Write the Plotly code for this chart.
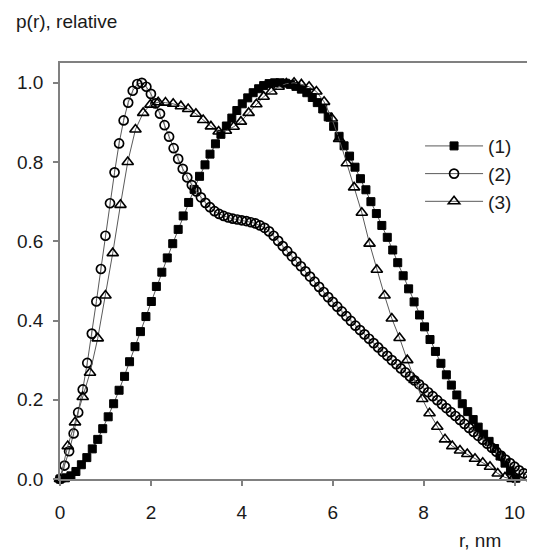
import plotly.graph_objects as go

# series (1): filled squares
r1 = [0.0, 0.12, 0.24, 0.35, 0.47, 0.59, 0.71, 0.83, 0.94, 1.06, 1.18, 1.30, 1.42, 1.53,
      1.65, 1.77, 1.89, 2.01, 2.12, 2.24, 2.36, 2.48, 2.60, 2.71, 2.83, 2.95, 3.07, 3.19,
      3.30, 3.42, 3.54, 3.66, 3.78, 3.89, 4.01, 4.13, 4.25, 4.37, 4.48, 4.60, 4.72, 4.84,
      4.96, 5.07, 5.19, 5.31, 5.43, 5.55, 5.66, 5.78, 5.90, 6.02, 6.14, 6.25, 6.37, 6.49,
      6.61, 6.73, 6.84, 6.96, 7.08, 7.20, 7.32, 7.43, 7.55, 7.67, 7.79, 7.91, 8.02, 8.14,
      8.26, 8.38, 8.50, 8.61, 8.73, 8.85, 8.97, 9.09, 9.20, 9.32, 9.44, 9.56, 9.68, 9.79,
      9.91, 10.03]
p1 = [0.000, 0.003, 0.008, 0.019, 0.036, 0.054, 0.076, 0.100, 0.127, 0.157, 0.190, 0.224,
      0.259, 0.296, 0.334, 0.372, 0.410, 0.448, 0.486, 0.522, 0.558, 0.594, 0.630, 0.664,
      0.698, 0.731, 0.764, 0.793, 0.820, 0.846, 0.870, 0.891, 0.911, 0.930, 0.947, 0.962,
      0.975, 0.985, 0.993, 0.998, 1.000, 1.000, 0.999, 0.996, 0.991, 0.984, 0.975, 0.963,
      0.950, 0.934, 0.914, 0.890, 0.865, 0.841, 0.815, 0.787, 0.758, 0.730, 0.700, 0.670,
      0.640, 0.610, 0.578, 0.546, 0.513, 0.480, 0.447, 0.414, 0.384, 0.352, 0.322, 0.292,
      0.263, 0.237, 0.212, 0.190, 0.170, 0.150, 0.131, 0.113, 0.095, 0.077, 0.058, 0.040,
      0.020, 0.002]

# series (2): open circles
r2 = [0.0, 0.1, 0.2, 0.3, 0.4, 0.5, 0.6, 0.7, 0.8, 0.9, 1.0, 1.1, 1.2, 1.3, 1.4, 1.5, 1.6,
      1.7, 1.8, 1.9, 2.0, 2.1, 2.2, 2.3, 2.4, 2.5, 2.6, 2.7, 2.8, 2.9, 3.0, 3.1, 3.2, 3.3,
      3.4, 3.5, 3.6, 3.7, 3.8, 3.9, 4.0, 4.1, 4.2, 4.3, 4.4, 4.5, 4.6, 4.7, 4.8, 4.9, 5.0,
      5.1, 5.2, 5.3, 5.4, 5.5, 5.6, 5.7, 5.8, 5.9, 6.0, 6.1, 6.2, 6.3, 6.4, 6.5, 6.6, 6.7,
      6.8, 6.9, 7.0, 7.1, 7.2, 7.3, 7.4, 7.5, 7.6, 7.7, 7.8, 7.9, 8.0, 8.1, 8.2, 8.3, 8.4,
      8.5, 8.6, 8.7, 8.8, 8.9, 9.0, 9.1, 9.2, 9.3, 9.4, 9.5, 9.6, 9.7, 9.8, 9.9, 10.0,
      10.1, 10.2, 10.3, 10.4]
p2 = [0.000, 0.034, 0.070, 0.115, 0.168, 0.226, 0.293, 0.367, 0.448, 0.530, 0.614, 0.696,
      0.774, 0.847, 0.905, 0.950, 0.980, 0.997, 1.000, 0.990, 0.972, 0.948, 0.922, 0.893,
      0.864, 0.835, 0.808, 0.783, 0.761, 0.742, 0.726, 0.711, 0.697, 0.686, 0.676, 0.669,
      0.664, 0.660, 0.657, 0.655, 0.653, 0.651, 0.648, 0.645, 0.640, 0.634, 0.625, 0.614,
      0.601, 0.588, 0.575, 0.562, 0.549, 0.537, 0.524, 0.511, 0.498, 0.485, 0.472, 0.459,
      0.447, 0.435, 0.423, 0.411, 0.399, 0.387, 0.376, 0.365, 0.354, 0.343, 0.332, 0.321,
      0.311, 0.300, 0.290, 0.279, 0.269, 0.259, 0.249, 0.239, 0.229, 0.219, 0.209, 0.199,
      0.189, 0.179, 0.169, 0.159, 0.149, 0.139, 0.129, 0.119, 0.109, 0.099, 0.089, 0.079,
      0.069, 0.059, 0.049, 0.040, 0.031, 0.022, 0.014, 0.007, 0.002]

# series (3): open triangles
r3 = [0.0, 0.17, 0.33, 0.50, 0.66, 0.83, 1.00, 1.16, 1.33, 1.49, 1.66, 1.83, 1.99, 2.16,
      2.32, 2.49, 2.66, 2.82, 2.99, 3.15, 3.32, 3.49, 3.65, 3.82, 3.98, 4.15, 4.32, 4.48,
      4.65, 4.81, 4.98, 5.15, 5.31, 5.48, 5.64, 5.81, 5.98, 6.14, 6.31, 6.47, 6.64, 6.81,
      6.97, 7.14, 7.30, 7.47, 7.64, 7.80, 7.97, 8.13, 8.30, 8.47, 8.63, 8.80, 8.96, 9.13,
      9.30, 9.46, 9.63, 9.79, 9.96]
p3 = [0.000, 0.083, 0.143, 0.207, 0.268, 0.355, 0.463, 0.570, 0.692, 0.800, 0.882, 0.924,
      0.945, 0.951, 0.950, 0.947, 0.941, 0.934, 0.922, 0.906, 0.890, 0.877, 0.879, 0.889,
      0.902, 0.924, 0.946, 0.965, 0.978, 0.990, 0.998, 1.000, 0.996, 0.990, 0.978, 0.952,
      0.910, 0.858, 0.797, 0.736, 0.672, 0.594, 0.528, 0.463, 0.405, 0.356, 0.300, 0.250,
      0.202, 0.166, 0.132, 0.100, 0.083, 0.072, 0.063, 0.051, 0.041, 0.031, 0.014, 0.004,
      0.000]

names = ["(1)", "(2)", "(3)"]
x_ticks = [0, 2, 4, 6, 8, 10]
y_ticks = [0.0, 0.2, 0.4, 0.6, 0.8, 1.0]

font = "Liberation Sans, Arial, sans-serif"
line_col = "#5a5a5a"
axis_col = "#808080"

fig = go.Figure()
fig.add_trace(go.Scatter(
    x=r1, y=p1, name=names[0], mode="lines+markers", cliponaxis=False,
    line=dict(color=line_col, width=1),
    marker=dict(symbol="square", size=8, color="black", line=dict(color="black", width=1)),
))
fig.add_trace(go.Scatter(
    x=r2, y=p2, name=names[1], mode="lines+markers", cliponaxis=False,
    line=dict(color=line_col, width=1),
    error_y=dict(type="constant", value=0.012, color="#b0b0b0", thickness=1, width=0),
    marker=dict(symbol="circle-open", size=9, color="black", line=dict(width=1.7)),
))
fig.add_trace(go.Scatter(
    x=r3, y=p3, name=names[2], mode="lines+markers", cliponaxis=False,
    line=dict(color=line_col, width=1),
    marker=dict(symbol="triangle-up-open", size=10, color="black", line=dict(width=1.6)),
))

# page body has an 8px margin, so the figure is sized 8px smaller than the window
fig.update_layout(
    width=527, height=549,
    margin=dict(l=52, r=0, t=55, b=78),
    paper_bgcolor="white", plot_bgcolor="white",
    font=dict(family=font, size=19, color="#1a1a1a"),
    showlegend=True,
    legend=dict(x=0.758, y=0.846, xanchor="left", yanchor="top", itemwidth=58,
                bgcolor="rgba(0,0,0,0)", font=dict(size=19), tracegroupgap=0),
    annotations=[
        dict(text="p(r), relative", xref="paper", yref="paper", x=-0.097, y=1.099,
             xanchor="left", yanchor="middle", showarrow=False, font=dict(size=19)),
        dict(text="r, nm", xref="paper", yref="paper", x=0.836, y=-0.147,
             xanchor="left", yanchor="middle", showarrow=False, font=dict(size=19)),
    ],
)
fig.update_xaxes(
    range=[0, 10.45], tickvals=x_ticks, ticktext=[str(v) for v in x_ticks],
    showgrid=False, zeroline=False, showline=True, linecolor=axis_col, linewidth=1.5,
    mirror=True, ticks="outside", ticklen=5, tickcolor=axis_col, tickwidth=1.5,
    ticklabelstandoff=10,
)
fig.update_yaxes(
    range=[0, 1.05], tickvals=y_ticks, ticktext=["%.1f" % v for v in y_ticks],
    showgrid=False, zeroline=False, showline=True, linecolor=axis_col, linewidth=1.5,
    ticks="outside", ticklen=5, tickcolor=axis_col, tickwidth=1.5,
    ticklabelstandoff=6,
)

fig.write_html("out.html")
